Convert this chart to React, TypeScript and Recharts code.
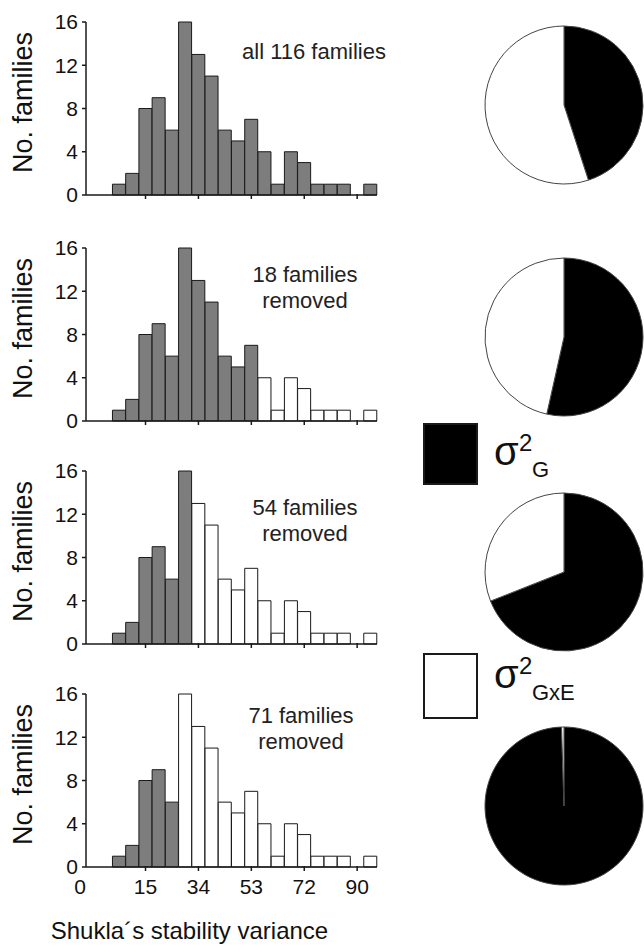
import React from 'react'
import { BarChart, Bar, XAxis, YAxis, Cell, PieChart, Pie } from 'recharts'

// histogram of Shukla's stability variance, same bins in every panel
const BIN_COUNTS = [0, 0, 1, 2, 8, 9, 6, 16, 13, 11, 6, 5, 7, 4, 1, 4, 3, 1, 1, 1, 0, 1]
const TICK_BINS = [4, 8, 12, 16, 20]
const TICK_LABELS = ['15', '34', '53', '72', '90']
const Y_TICKS = [0, 4, 8, 12, 16]

// panels: annotation text and how many leading bins are still kept (grey)
const PANEL_LABELS = [
    ['all 116 families'],
    ['18 families', 'removed'],
    ['54 families', 'removed'],
    ['71 families', 'removed'],
]
const PANEL_KEPT_BINS = [22, 13, 8, 7]

// variance components (%) for each panel
const PIE_G = [45, 53.5, 69, 99.5]
const PIE_GXE = [55, 46.5, 31, 0.5]

const LEGEND_NAMES = ['G', 'GxE']

const FONT = '"Liberation Sans", Arial, Helvetica, sans-serif'
const INK = '#1a1a1a'
const GREY = '#7d7d7d'

const CHART_W = 390
const MARGIN = { top: 20, right: 13, left: 0, bottom: 0 }
const Y_AXIS_W = 86
const PLOT_H = 173
const PLOT_W = CHART_W - MARGIN.right - Y_AXIS_W
const BIN_W = PLOT_W / BIN_COUNTS.length
const PANEL_TOPS = [22, 248, 471, 694]
const LABEL_OFFSETS = [37, 34, 44, 29]
const LABEL_CENTERS = [314, 305, 305, 301]
const PIE_CY = [105, 337, 572, 806]

const histData = BIN_COUNTS.map((count, bin) => ({ bin, count }))

function BinTick(props: any) {
    const { x, y, payload, showLabels } = props
    const i = TICK_BINS.indexOf(payload.value)
    return (
        <g>
            {i >= 0 && <line x1={x} x2={x} y1={y - 1} y2={y + 4} stroke={INK} strokeWidth={1.5} />}
            {showLabels && i >= 0 && (
                <text x={x} y={y + 27} textAnchor="middle" fontSize={21} fill="#111" fontFamily={FONT}>
                    {TICK_LABELS[i]}
                </text>
            )}
            {showLabels && payload.value === 0 && (
                <text x={x - BIN_W / 2 - 6} y={y + 27} textAnchor="middle" fontSize={21} fill="#111" fontFamily={FONT}>
                    0
                </text>
            )}
        </g>
    )
}

function Panel({ index }: { index: number }) {
    const last = index === PANEL_LABELS.length - 1
    const xAxisH = last ? 90 : 40
    const height = MARGIN.top + PLOT_H + xAxisH
    const kept = PANEL_KEPT_BINS[index]
    return (
        <div style={{ position: 'absolute', left: 0, top: PANEL_TOPS[index] - MARGIN.top }}>
            <BarChart width={CHART_W} height={height} data={histData} margin={MARGIN} barCategoryGap={0}>
                <XAxis
                    dataKey="bin"
                    interval={0}
                    height={xAxisH}
                    tickLine={false}
                    tickSize={0}
                    tickMargin={0}
                    axisLine={{ stroke: INK, strokeWidth: 1.5 }}
                    tick={(p: any) => <BinTick {...p} showLabels={last} />}
                    label={last ? {
                        value: 'Shukla\u00b4s stability variance',
                        position: 'insideBottom',
                        offset: 18,
                        dx: -42,
                        fontSize: 24,
                        fill: '#111',
                        fontFamily: FONT,
                    } : undefined}
                />
                <YAxis
                    width={Y_AXIS_W}
                    domain={[0, 16]}
                    ticks={Y_TICKS}
                    interval={0}
                    tickSize={4}
                    tickMargin={4}
                    axisLine={{ stroke: INK, strokeWidth: 1.5 }}
                    tickLine={{ stroke: INK, strokeWidth: 1.5 }}
                    tick={{ fontSize: 21, fill: '#111', fontFamily: FONT }}
                    label={{
                        value: 'No. families',
                        angle: -90,
                        position: 'insideLeft',
                        offset: 22,
                        dy: -6,
                        fontSize: 27,
                        fill: '#111',
                        fontFamily: FONT,
                        style: { textAnchor: 'middle' },
                    }}
                />
                <Bar dataKey="count" stroke={INK} strokeWidth={1} isAnimationActive={false}>
                    {histData.map((d) => (
                        <Cell key={d.bin} fill={d.bin < kept ? GREY : '#ffffff'} />
                    ))}
                </Bar>
                {PANEL_LABELS[index].map((line, k) => (
                    <text
                        key={k}
                        x={LABEL_CENTERS[index]}
                        y={MARGIN.top + LABEL_OFFSETS[index] + k * 26}
                        textAnchor="middle"
                        fontSize={22}
                        fill="#222"
                        fontFamily={FONT}
                    >
                        {line}
                    </text>
                ))}
            </BarChart>
        </div>
    )
}

function VariancePie({ index }: { index: number }) {
    const data = [
        { name: LEGEND_NAMES[0], value: PIE_G[index] },
        { name: LEGEND_NAMES[1], value: PIE_GXE[index] },
    ]
    return (
        <div style={{ position: 'absolute', left: 479, top: PIE_CY[index] - 85 }}>
            <PieChart width={170} height={170} margin={{ top: 0, right: 0, bottom: 0, left: 0 }}>
                <Pie
                    data={data}
                    dataKey="value"
                    startAngle={90}
                    endAngle={-270}
                    outerRadius={79}
                    stroke="#444"
                    strokeWidth={1}
                    isAnimationActive={false}
                >
                    <Cell fill="#000000" />
                    <Cell fill="#ffffff" />
                </Pie>
            </PieChart>
        </div>
    )
}

function SigmaLegend() {
    const items = [
        { top: 424, h: 60, base: 465, fill: '#000000' },
        { top: 654, h: 64, base: 688, fill: '#ffffff' },
    ]
    return (
        <svg width={220} height={950} style={{ position: 'absolute', left: 400, top: 0 }}>
            {items.map((it, k) => (
                <g key={k} fontFamily={FONT} fill="#111">
                    <rect x={24} y={it.top} width={53} height={it.h} fill={it.fill} stroke={INK} strokeWidth={2} />
                    <text x={94} y={it.base} fontSize={40}>σ</text>
                    <text x={119} y={it.base - 14} fontSize={24}>2</text>
                    <text x={132} y={it.base + 12} fontSize={22}>{LEGEND_NAMES[k]}</text>
                </g>
            ))}
        </svg>
    )
}

export default function App() {
    return (
        <div
            style={{
                position: 'absolute',
                left: 0,
                top: 0,
                width: 644,
                height: 950,
                overflow: 'hidden',
                background: '#ffffff',
                fontFamily: FONT,
            }}
        >
            {PANEL_LABELS.map((_, i) => (
                <Panel key={i} index={i} />
            ))}
            <SigmaLegend />
            {PIE_G.map((_, i) => (
                <VariancePie key={i} index={i} />
            ))}
        </div>
    )
}
